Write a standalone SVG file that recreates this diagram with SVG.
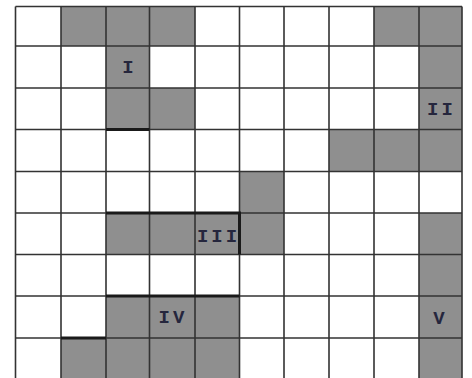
<svg xmlns="http://www.w3.org/2000/svg" width="472" height="378" viewBox="0 0 472 378">
<style>
.g{fill:#8f8f8f}
.ln{stroke:#333;stroke-width:1.6;fill:none}
.tk{stroke:#1a1a1a;stroke-width:3;fill:none}
.t{font-family:"Liberation Mono","DejaVu Sans Mono",monospace;font-size:19px;font-weight:bold;fill:#25263d;text-anchor:middle;letter-spacing:3px}
</style>
<rect x="0" y="0" width="472" height="378" fill="#fff"/>
<g id="shaded">
<rect class="g" x="61" y="6.5" width="45" height="39.5"/>
<rect class="g" x="106" y="6.5" width="43.5" height="39.5"/>
<rect class="g" x="149.5" y="6.5" width="45.5" height="39.5"/>
<rect class="g" x="374" y="6.5" width="45" height="39.5"/>
<rect class="g" x="419" y="6.5" width="43" height="39.5"/>
<rect class="g" x="106" y="46" width="43.5" height="42"/>
<rect class="g" x="419" y="46" width="43" height="42"/>
<rect class="g" x="106" y="88" width="43.5" height="41.5"/>
<rect class="g" x="149.5" y="88" width="45.5" height="41.5"/>
<rect class="g" x="419" y="88" width="43" height="41.5"/>
<rect class="g" x="329" y="129.5" width="45" height="42"/>
<rect class="g" x="374" y="129.5" width="45" height="42"/>
<rect class="g" x="419" y="129.5" width="43" height="42"/>
<rect class="g" x="239.5" y="171.5" width="44.5" height="41.5"/>
<rect class="g" x="106" y="213" width="43.5" height="41.5"/>
<rect class="g" x="149.5" y="213" width="45.5" height="41.5"/>
<rect class="g" x="195" y="213" width="44.5" height="41.5"/>
<rect class="g" x="239.5" y="213" width="44.5" height="41.5"/>
<rect class="g" x="419" y="213" width="43" height="41.5"/>
<rect class="g" x="419" y="254.5" width="43" height="41.5"/>
<rect class="g" x="106" y="296" width="43.5" height="42"/>
<rect class="g" x="149.5" y="296" width="45.5" height="42"/>
<rect class="g" x="195" y="296" width="44.5" height="42"/>
<rect class="g" x="419" y="296" width="43" height="42"/>
<rect class="g" x="61" y="338" width="45" height="40"/>
<rect class="g" x="106" y="338" width="43.5" height="40"/>
<rect class="g" x="149.5" y="338" width="45.5" height="40"/>
<rect class="g" x="195" y="338" width="44.5" height="40"/>
<rect class="g" x="419" y="338" width="43" height="40"/>
</g>
<g id="grid">
<path class="ln" d="M15.5 6.5V378M61 6.5V378M106 6.5V378M149.5 6.5V378M195 6.5V378M239.5 6.5V378M284 6.5V378M329 6.5V378M374 6.5V378M419 6.5V378M462 6.5V378"/>
<path class="ln" d="M15.5 6.5H462M15.5 46H462M15.5 88H462M15.5 129.5H462M15.5 171.5H462M15.5 213H462M15.5 254.5H462M15.5 296H462M15.5 338H462"/>
</g>
<g id="borders">
<path class="tk" d="M106 129.5H149.5"/>
<path class="tk" d="M106 213H239.5V254.5"/>
<path class="tk" d="M106 296H239.5"/>
<path class="tk" d="M61 338H106"/>
</g>
<g id="labels">
<text class="t" x="129.5" y="73">I</text>
<text class="t" x="441.5" y="115">II</text>
<text class="t" x="218.5" y="242">III</text>
<text class="t" x="173" y="323">IV</text>
<text class="t" x="440.5" y="324">V</text>
</g>
</svg>
